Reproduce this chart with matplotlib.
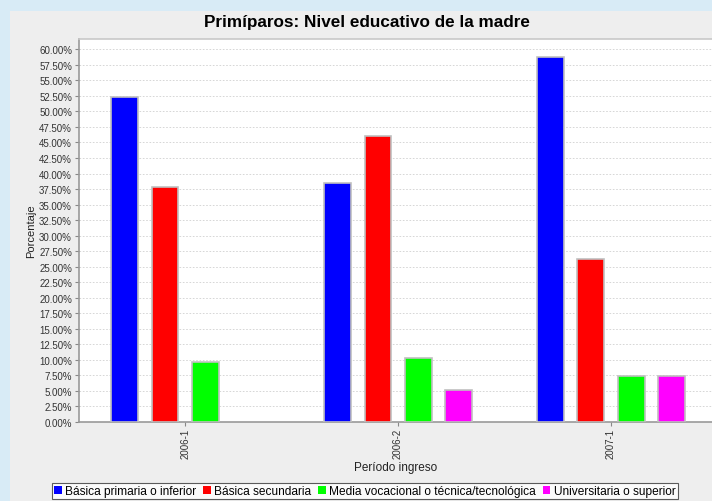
import numpy as np
import matplotlib.pyplot as plt
from matplotlib.patches import Rectangle, Patch

# data
periodos = ["2006-1", "2006-2", "2007-1"]
series = ["Básica primaria o inferior", "Básica secundaria",
          "Media vocacional o técnica/tecnológica", "Universitaria o superior"]
basica_primaria = [52.3, 38.4, 58.7]
basica_secundaria = [37.9, 46.0, 26.3]
media_vocacional = [9.6, 10.3, 7.4]
universitaria = [0.0, 5.2, 7.4]
colores = ["#0000FF", "#FF0000", "#00FF00", "#FF00FF"]

valores = [basica_primaria, basica_secundaria, media_vocacional, universitaria]

plt.rcParams["font.family"] = ["Liberation Sans", "DejaVu Sans"]

fig = plt.figure(figsize=(7.12, 5.02), dpi=100)
fig.patch.set_facecolor("#D8EBF6")
# gray chart panel
fig.add_artist(Rectangle((10 / 712, 0), 1, 1 - 12 / 502, transform=fig.transFigure,
                         facecolor="#EEEEEE", edgecolor="none", zorder=0))

ax = fig.add_axes([79 / 712, 1 - 423 / 502, 1 - 79 / 712, (423 - 40) / 502])
ax.set_facecolor("white")

x = np.arange(len(periodos))
offsets = [-0.285, -0.095, 0.095, 0.285]
for vals, off, col, name in zip(valores, offsets, colores, series):
    b = ax.bar(x + off, vals, width=0.125, color=col, edgecolor="#C0C0C0",
               linewidth=1.2, label=name, zorder=3)
    for r, v in zip(b, vals):
        if v == 0:
            r.set_visible(False)

ax.set_xlim(-0.498, 2.474)
ax.set_ylim(0, 61.66)
yt = np.arange(0, 60.01, 2.5)
ax.set_yticks(yt)
ax.set_yticklabels(["%.2f%%" % v for v in yt])
ax.set_xticks(x)
ax.set_xticklabels(periodos, rotation=90)
ax.tick_params(axis="y", labelsize=7, colors="#888888", labelcolor="#333333",
               length=3, width=0.8, pad=2)
ax.tick_params(axis="x", labelsize=7, colors="#888888", labelcolor="#333333",
               length=3, width=0.8, pad=1)
ax.grid(axis="y", color="#D0D0D0", linestyle=(0, (2, 2)), linewidth=0.6, zorder=0)

ax.spines["right"].set_visible(False)
ax.spines["top"].set_color("#C8C8C8")
ax.spines["left"].set_color("#999999")
ax.spines["bottom"].set_color("#999999")
for s in ax.spines.values():
    s.set_linewidth(1.2)

ax.set_ylabel("Porcentaje", fontsize=8, color="#222222", labelpad=2)
ax.set_xlabel("Período ingreso", fontsize=8.5, color="#222222", labelpad=2)

fig.text(367 / 712, 1 - 22 / 502, "Primíparos: Nivel educativo de la madre",
         ha="center", va="center", fontsize=12.3, fontweight="bold")

handles = [Patch(facecolor=c, edgecolor="none") for c in colores]
leg = fig.legend(handles=handles, labels=series, loc="center",
                 bbox_to_anchor=(365 / 712, 1 - 492 / 502), ncol=4,
                 fontsize=8.6, frameon=True, fancybox=False, handlelength=0.6,
                 handleheight=0.6, handletextpad=0.3, columnspacing=0.6,
                 borderpad=0.2, borderaxespad=0)
leg.get_frame().set_edgecolor("#333333")
leg.get_frame().set_linewidth(0.8)

fig.savefig("out.png", dpi=100, facecolor=fig.get_facecolor())
